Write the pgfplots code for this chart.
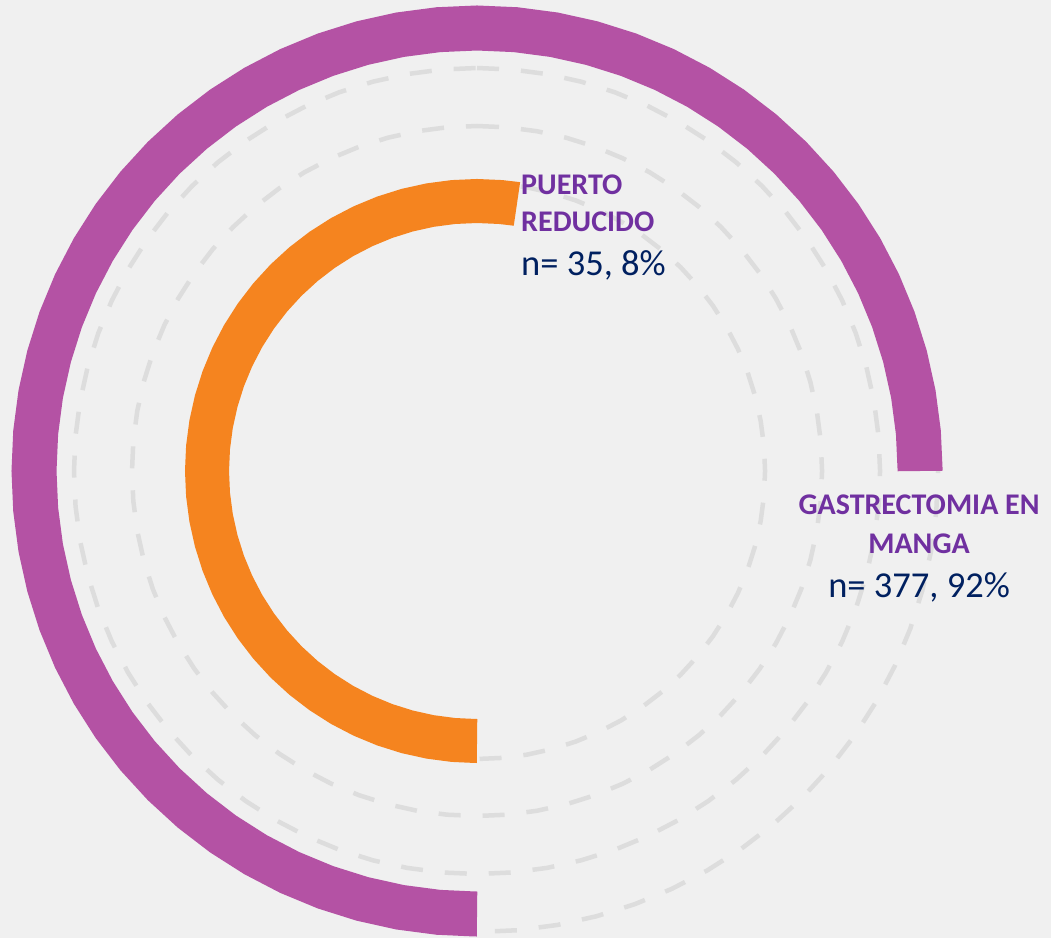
\documentclass[border=0pt]{standalone}
\usepackage{pgfplots}
\pgfplotsset{compat=1.18}
\usepackage{fontspec}
\setmainfont{Carlito}
\definecolor{bg}{HTML}{F0F0F0}
\definecolor{purp}{HTML}{B452A4}
\definecolor{orng}{HTML}{F5841F}
\definecolor{dgray}{HTML}{DDDDDD}
\definecolor{lblpurple}{HTML}{7030A0}
\definecolor{navy}{HTML}{002060}
\begin{document}
\begin{tikzpicture}
\fill[bg] (0,0) rectangle (1051pt,938pt);
\begin{axis}[width=1051pt,height=938pt,scale only axis,
  xmin=-477,xmax=574,ymin=-467,ymax=471,
  hide axis, clip=false]
% dashed background circles
\foreach \r in {461,403,345,288}{
\edef\temp{\noexpand\addplot[dgray, line width=4.5pt, dash pattern=on 22pt off 22pt, mark=none, data cs=polar] coordinates {
(90,\r) (85,\r) (80,\r) (75,\r) (70,\r) (65,\r) (60,\r) (55,\r) (50,\r) (45,\r) (40,\r) (35,\r) (30,\r) (25,\r) (20,\r) (15,\r) (10,\r) (5,\r) (0,\r)
(-5,\r) (-10,\r) (-15,\r) (-20,\r) (-25,\r) (-30,\r) (-35,\r) (-40,\r) (-45,\r) (-50,\r) (-55,\r) (-60,\r) (-65,\r) (-70,\r) (-75,\r) (-80,\r) (-85,\r) (-90,\r)
(-95,\r) (-100,\r) (-105,\r) (-110,\r) (-115,\r) (-120,\r) (-125,\r) (-130,\r) (-135,\r) (-140,\r) (-145,\r) (-150,\r) (-155,\r) (-160,\r) (-165,\r) (-170,\r) (-175,\r) (-180,\r)
(-185,\r) (-190,\r) (-195,\r) (-200,\r) (-205,\r) (-210,\r) (-215,\r) (-220,\r) (-225,\r) (-230,\r) (-235,\r) (-240,\r) (-245,\r) (-250,\r) (-255,\r) (-260,\r) (-265,\r) (-270,\r)
};}\temp
}
% Gastrectomia en manga (outer bar)
\addplot[purp, line width=45pt, mark=none, data cs=polar] coordinates {
(0,443) (0.3,443) (5,443) (10,443) (15,443) (20,443) (25,443) (30,443) (35,443) (40,443) (45,443) (50,443) (55,443) (60,443) (65,443) (70,443) (75,443) (80,443) (85,443) (90,443)
(95,443) (100,443) (105,443) (110,443) (115,443) (120,443) (125,443) (130,443) (135,443) (140,443) (145,443) (150,443) (155,443) (160,443) (165,443) (170,443) (175,443) (180,443)
(185,443) (190,443) (195,443) (200,443) (205,443) (210,443) (215,443) (220,443) (225,443) (230,443) (235,443) (240,443) (245,443) (250,443) (255,443) (260,443) (265,443) (269.7,443) (270,443)
};
% Puerto reducido (inner bar)
\addplot[orng, line width=44pt, mark=none, data cs=polar] coordinates {
(81.5,270) (81.8,270) (85,270) (90,270)
(95,270) (100,270) (105,270) (110,270) (115,270) (120,270) (125,270) (130,270) (135,270) (140,270) (145,270) (150,270) (155,270) (160,270) (165,270) (170,270) (175,270) (180,270)
(185,270) (190,270) (195,270) (200,270) (205,270) (210,270) (215,270) (220,270) (225,270) (230,270) (235,270) (240,270) (245,270) (250,270) (255,270) (260,270) (265,270) (269.7,270) (270,270)
};
% labels
\node[anchor=base west, inner sep=0pt, text=lblpurple, font=\fontsize{30}{36}\selectfont\bfseries] at (axis cs:44,276) {PUERTO};
\node[anchor=base west, inner sep=0pt, text=lblpurple, font=\fontsize{30}{36}\selectfont\bfseries] at (axis cs:44,239) {REDUCIDO};
\node[anchor=base west, inner sep=0pt, text=navy, font=\fontsize{36.5}{42}\selectfont] at (axis cs:44,195) {n= 35, 8\%};
\node[anchor=base, inner sep=0pt, text=lblpurple, font=\fontsize{30}{36}\selectfont\bfseries] at (axis cs:442,-43) {GASTRECTOMIA EN};
\node[anchor=base, inner sep=0pt, text=lblpurple, font=\fontsize{30}{36}\selectfont\bfseries] at (axis cs:442,-82) {MANGA};
\node[anchor=base, inner sep=0pt, text=navy, font=\fontsize{36.5}{42}\selectfont] at (axis cs:442,-126) {n= 377, 92\%};
\end{axis}
\pgfresetboundingbox
\path[use as bounding box] (0,0) rectangle (1051pt,938pt);
\end{tikzpicture}
\end{document}
